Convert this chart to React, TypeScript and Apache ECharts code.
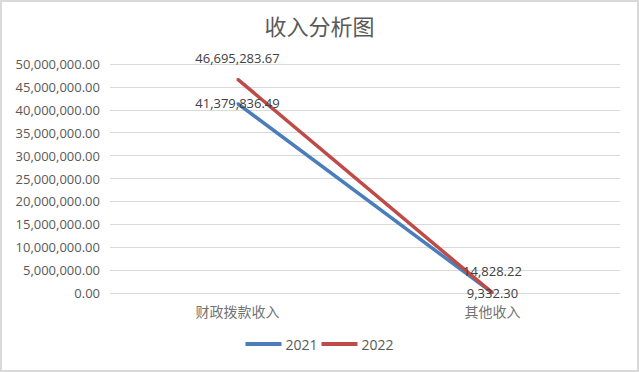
import React, { useEffect, useRef } from "react";
import * as echarts from "echarts";

const categories = ["财政拨款收入", "其他收入"];
const series2021 = [41379836.49, 9332.3];
const series2022 = [46695283.67, 14828.22];
const seriesNames = ["2021", "2022"];
const yTicks = { min: 0, max: 50000000, interval: 5000000 };

function fmt(v: number): string {
  const fixed = Math.abs(v).toFixed(2);
  const [intPart, dec] = fixed.split(".");
  const withCommas = intPart.replace(/\B(?=(\d{3})+(?!\d))/g, ",");
  return (v < 0 ? "-" : "") + withCommas + "." + dec;
}

const FONT = "'Open Sans', 'Noto Sans CJK SC', sans-serif";

export default function App() {
  const ref = useRef<HTMLDivElement>(null);
  useEffect(() => {
    if (!ref.current) return;
    const chart = echarts.init(ref.current, undefined, { renderer: "svg" });
    chart.setOption({
      animation: false,
      backgroundColor: "#ffffff",
      title: {
        text: "收入分析图",
        left: "center",
        top: 9,
        textStyle: {
          fontSize: 22,
          fontWeight: "normal",
          color: "#595959",
          fontFamily: "'Noto Sans CJK SC', sans-serif",
        },
      },
      legend: {
        bottom: 16,
        left: "center",
        itemWidth: 36,
        itemHeight: 4,
        itemGap: 4,
        icon: "rect",
        textStyle: { color: "#595959", fontSize: 14, fontFamily: FONT, padding: [0, 0, 0, -1] },
        data: seriesNames,
      },
      grid: { left: 110, right: 19, top: 64, bottom: 79, containLabel: false },
      xAxis: {
        type: "category",
        data: categories,
        boundaryGap: true,
        axisLine: { show: false },
        axisTick: { show: false },
        axisLabel: {
          color: "#737373",
          fontSize: 14,
          margin: 11,
          fontFamily: "'Noto Sans CJK SC', sans-serif",
        },
      },
      yAxis: {
        type: "value",
        min: yTicks.min,
        max: yTicks.max,
        interval: yTicks.interval,
        axisLine: { show: false },
        axisTick: { show: false },
        splitLine: { lineStyle: { color: "#d9d9d9", width: 1 } },
        axisLabel: {
          color: "#595959",
          fontSize: 13,
          margin: 10,
          fontFamily: FONT,
          formatter: (v: number) => fmt(v),
        },
      },
      series: [
        {
          name: seriesNames[0],
          type: "line",
          data: series2021,
          symbol: "circle",
          symbolSize: 2,
          showSymbol: true,
          lineStyle: { color: "#4a7ebb", width: 3.5 },
          itemStyle: { color: "#4a7ebb" },
          label: {
            show: true,
            position: "inside",
            color: "#404040",
            fontSize: 13,
            fontFamily: FONT,
            formatter: (p: any) => fmt(p.value),
          },
        },
        {
          name: seriesNames[1],
          type: "line",
          data: series2022,
          symbol: "circle",
          symbolSize: 2,
          showSymbol: true,
          lineStyle: { color: "#be4b48", width: 3.5 },
          itemStyle: { color: "#be4b48" },
          label: {
            show: true,
            position: "top",
            distance: 14,
            color: "#404040",
            fontSize: 13,
            fontFamily: FONT,
            formatter: (p: any) => fmt(p.value),
          },
        },
      ],
    });
    return () => chart.dispose();
  }, []);
  return (
    <div style={{ position: "fixed", left: 0, top: 0, width: 639, height: 372, background: "#fff" }}>
      <div ref={ref} style={{ position: "absolute", left: 0, top: 0, width: 639, height: 372 }} />
      <div
        style={{
          position: "absolute",
          left: 0,
          top: 0,
          width: 639,
          height: 372,
          boxSizing: "border-box",
          border: "2px solid #d9d9d9",
          pointerEvents: "none",
        }}
      />
    </div>
  );
}
